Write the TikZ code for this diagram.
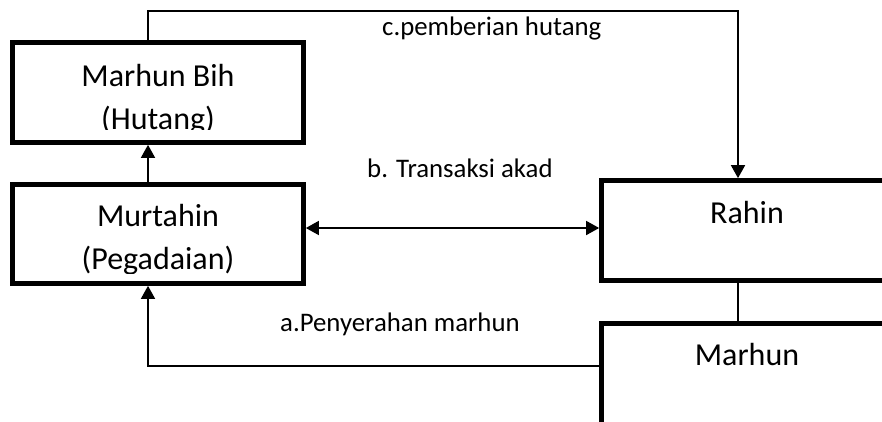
\documentclass[tikz,border=0pt]{standalone}
\usepackage{fontspec}
\setmainfont{Carlito}
\usetikzlibrary{arrows.meta}
\begin{document}
\begin{tikzpicture}[x=1pt,y=-1pt,
  box/.style={draw, line width=4.7pt, rectangle, inner sep=0pt},
  btxt/.style={inner sep=0pt, anchor=base, font=\fontsize{32}{43.5}\selectfont},
  ltxt/.style={inner sep=0pt, anchor=base west, font=\fontsize{26.8}{32}\selectfont},
  conn/.style={line width=1.6pt},
  arrowend/.style={-{Triangle[length=13pt,width=14pt]}},
  arrowboth/.style={{Triangle[length=13pt,width=14pt]}-{Triangle[length=13pt,width=14pt]}},
]
\useasboundingbox (0,0) rectangle (882,421);
% boxes
\node[box, minimum width=291pt, minimum height=100pt] (bih) at (158,92.5) {};
\node[box, minimum width=291pt, minimum height=99pt] (murt) at (158,234) {};
\node[box, minimum width=291pt, minimum height=100pt] (rahin) at (747,230.5) {};
\node[box, minimum width=291pt, minimum height=200pt] (marhun) at (747,423.5) {};
% box texts
\begin{scope}
  \clip (15,45) rectangle (301,129);
  \node[btxt] (bihA) at (158,86) {Marhun Bih};
  \node[btxt] (bihB) at (158,129.5) {(Hutang)};
\end{scope}
\begin{scope}
  \clip (15,187) rectangle (301,273);
  \node[btxt] (murtA) at (158,226) {Murtahin};
  \node[btxt] (murtB) at (158,269.5) {(Pegadaian)};
\end{scope}
\node[btxt] (rahinT) at (747,223) {Rahin};
\node[btxt] (marhunT) at (747,365) {Marhun};
% labels
\node[ltxt] (labC) at (382,35) {c.pemberian hutang};
\node[ltxt] (labB) at (367,177) {b. Transaksi akad};
\node[ltxt] (labA) at (280,331) {a.Penyerahan marhun};
% coordinates
\coordinate (topL) at (148,11);
\coordinate (topR) at (738,11);
\coordinate (midY) at (0,228);
\coordinate (botL) at (148,366);
% connectors
\draw[conn, arrowend] (bih.north -| topL) -- (topL) -- (topR) -- (rahin.north -| topR);
\draw[conn, arrowend] (murt.north -| topL) -- (bih.south -| topL);
\draw[conn, arrowboth] (murt.east |- midY) -- (rahin.west |- midY);
\draw[conn] (rahin.south -| topR) -- (marhun.north -| topR);
\draw[conn, arrowend] (marhun.west |- botL) -- (botL) -- (murt.south -| botL);
\end{tikzpicture}
\end{document}
